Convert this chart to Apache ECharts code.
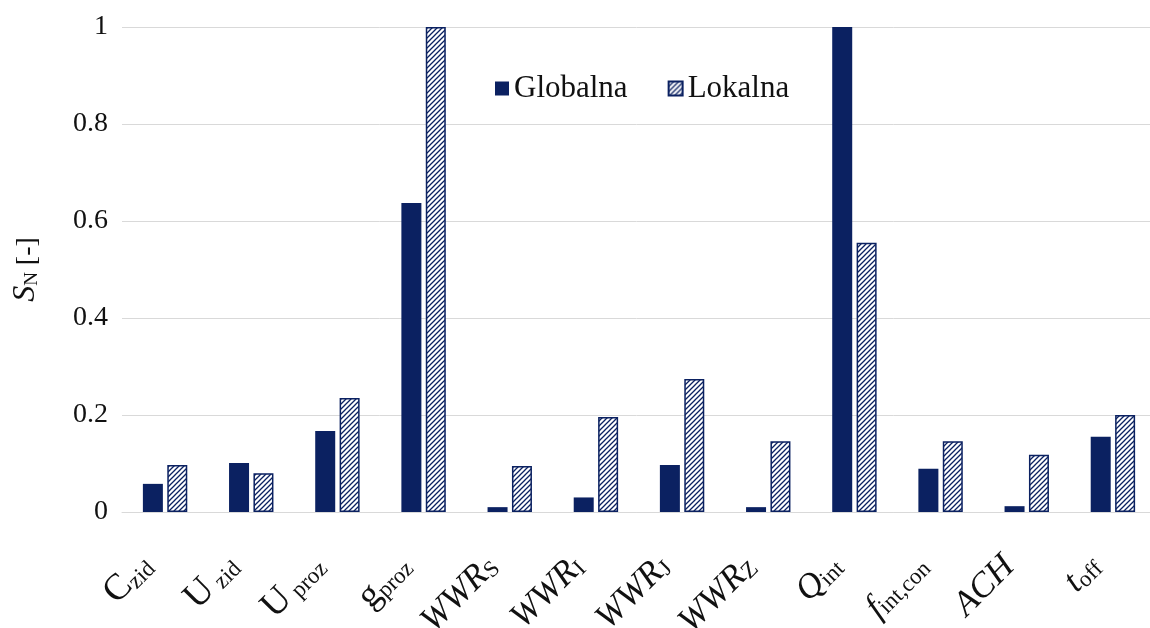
<!DOCTYPE html>
<html><head><meta charset="utf-8">
<script src="https://cdn.jsdelivr.net/npm/echarts@6/dist/echarts.min.js"></script>
<style>html,body{margin:0;padding:0;background:#fff;overflow:hidden}#c{width:1150px;height:628px}</style>
</head><body><div id="c"></div>
<script>
const categories = ['Czid','Uzid','Uproz','gproz','WWRS','WWRI','WWRJ','WWRZ','Qint','fintcon','ACH','toff'];
const categoryLabels = ['{m|C}{s|zid}','{m|U}{s| zid}','{m|U}{s| proz}','{m|g}{s|proz}','{i|WWR}{s|S}','{i|WWR}{s|I}','{i|WWR}{s|J}','{i|WWR}{s|Z}','{i|Q}{s|int}','{i|f}{s|int,con}','{i|ACH}','{i|t}{s|off}'];
const globalna = [0.058, 0.101, 0.167, 0.637, 0.010, 0.030, 0.097, 0.010, 1.000, 0.089, 0.012, 0.155];
const lokalna  = [0.097, 0.080, 0.235, 1.000, 0.095, 0.196, 0.274, 0.146, 0.555, 0.146, 0.118, 0.200];
const yTicks = [0, 0.2, 0.4, 0.6, 0.8, 1];
const seriesNames = ['Globalna','Lokalna'];

const NAVY = '#0b2161';
const cv = document.createElement('canvas');
cv.width = 5; cv.height = 5;
const cx = cv.getContext('2d');
cx.fillStyle = '#fff'; cx.fillRect(0,0,5,5);
cx.strokeStyle = NAVY; cx.lineWidth = 1.3;
cx.beginPath();
cx.moveTo(-1,6); cx.lineTo(6,-1);
cx.moveTo(-1,1); cx.lineTo(1,-1);
cx.moveTo(4,6); cx.lineTo(6,4);
cx.stroke();

const serif = '"Liberation Serif", "DejaVu Serif", serif';
const chart = echarts.init(document.getElementById('c'), null, {renderer:'canvas', width:1150, height:628});
chart.setOption({
  animation: false,
  textStyle: {fontFamily: serif},
  grid: {left: 122, right: -6, top: 27, bottom: 116, containLabel: false, outerBoundsMode: 'none'},
  legend: {
    data: seriesNames, left: 490, top: 68, itemWidth: 14, itemHeight: 14, itemGap: 40,
    icon: 'rect',
    textStyle: {fontFamily: serif, fontSize: 31, color: '#111'}
  },
  xAxis: {
    type: 'category', data: categories,
    axisLine: {lineStyle: {color: '#d9d9d9', width: 1}},
    axisTick: {show: false},
    axisLabel: {
      rotate: 45, margin: 27, interval: 0, color: '#111',
      padding: [0, 28, 0, 0],
      formatter: (v, i) => categoryLabels[i],
      rich: {
        m: {fontFamily: serif, fontSize: 37, color: '#111', verticalAlign: 'bottom', lineHeight: 42},
        i: {fontFamily: serif, fontSize: 35, fontStyle: 'italic', color: '#111', verticalAlign: 'bottom', lineHeight: 42},
        s: {fontFamily: serif, fontSize: 23, color: '#111', verticalAlign: 'bottom', lineHeight: 32}
      }
    }
  },
  yAxis: {
    type: 'value', min: 0, max: 1, interval: 0.2,
    axisLine: {show: false}, axisTick: {show: false},
    splitLine: {lineStyle: {color: '#d9d9d9', width: 1}},
    axisLabel: {
      margin: 14, color: '#111', fontFamily: serif, fontSize: 28,
      formatter: v => { const t = yTicks.find(x => Math.abs(x - v) < 1e-9); return t === undefined ? '' : String(t); }
    },
    name: '{i|S}{s|N}{m| [-]}', nameLocation: 'middle', nameGap: 80, nameRotate: 90,
    nameTextStyle: {
      rich: {
        m: {fontFamily: serif, fontSize: 28, color: '#111', verticalAlign: 'bottom', lineHeight: 32},
        i: {fontFamily: serif, fontSize: 32, fontStyle: 'italic', color: '#111', verticalAlign: 'bottom', lineHeight: 34},
        s: {fontFamily: serif, fontSize: 19, color: '#111', verticalAlign: 'bottom', lineHeight: 26}
      }
    }
  },
  series: [
    {name: seriesNames[0], type: 'bar', data: globalna, barWidth: 20, barGap: '22%',
     itemStyle: {color: NAVY}},
    {name: seriesNames[1], type: 'bar', data: lokalna, barWidth: 20,
     itemStyle: {color: {image: cv, repeat: 'repeat'}, borderColor: NAVY, borderWidth: 1.5}}
  ]
});
</script></body></html>
